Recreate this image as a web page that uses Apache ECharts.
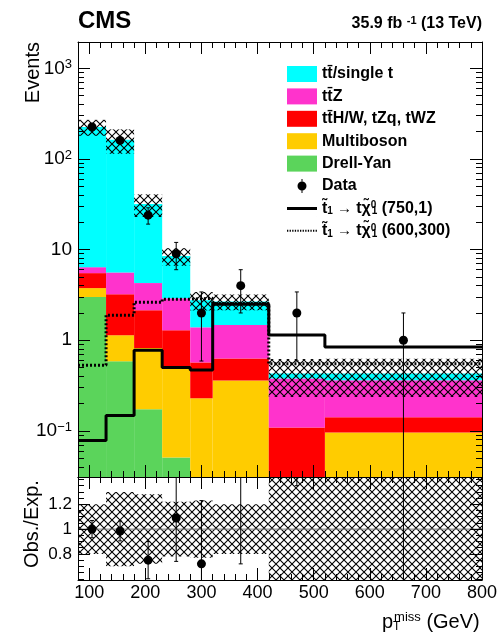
<!DOCTYPE html>
<html><head><meta charset="utf-8">
<script src="https://cdn.jsdelivr.net/npm/echarts@6/dist/echarts.min.js"></script>
<style>html,body{margin:0;padding:0;background:#fff}#c{width:498px;height:635px}</style>
</head><body><div id="c"></div>
<script>
// ---------------- data ----------------
const binLo = [80, 130, 180, 230, 280, 320, 420, 520];
const binHi = [130, 180, 230, 280, 320, 420, 520, 800];
// stacked backgrounds, bottom to top
const drellYan   = [3.0, 0.586, 0.173, 0.051, 0.005, 0.003, 0, 0];
const multiboson = [0.76, 0.55, 0.65, 0.44, 0.224, 0.357, 0.02, 0.096];
const ttOther    = [1.74, 2.08, 1.32, 0.80, 0.34, 0.27, 0.089, 0.045];
const ttZ        = [0.9, 2.38, 2.13, 1.62, 0.82, 0.84, 0.27, 0.22];
const ttSingle   = [218.6, 157.4, 27.5, 5.59, 1.38, 1.2, 0.05, 0.07];
const relUnc     = [0.2, 0.3, 0.28, 0.22, 0.23, 0.2, 0.45, 0.45];
const dataObs    = [225, 160, 24, 9, 2, 4, 2, 1];
const dataErr    = [15, 12.6, 4.9, 3, 1.41, 2, 1.41, 1];
const ratioObs   = [1.0, 0.985, 0.75, 1.09, 0.72, 1.5, 4.65, 2.3];
const ratioErr   = [0.07, 0.08, 0.15, 0.35, 0.51, 0.78, 3.3, 2.3];
const sig750     = [0.0785, 0.148, 0.776, 0.50, 0.47, 2.5, 1.14, 0.84];
const sig600     = [0.53, 1.89, 2.63, 2.84, 2.9, 2.55, 0.55, 0.55];
const xTickLabels = [100, 200, 300, 400, 500, 600, 700, 800];
const yTickLabels = [0.1, 1, 10, 100, 1000];
const rTickLabels = [0.8, 1, 1.2];

// ---------------- helpers ----------------
const FONT = '"Liberation Sans", Arial, Helvetica, sans-serif';
const X_MIN = 80, X_MAX = 800, Y_MIN = 0.031, Y_MAX = 1950, R_MIN = 0.59, R_MAX = 1.42;
const FLOOR = 1e-4;
const xMinor = []; for (let v = 100; v < 800; v += 20) if (v % 100) xMinor.push(v);
const yMinor = []; for (let e = -2; e <= 3; e++) for (let m = 2; m <= 9; m++) { const v = +(m * Math.pow(10, e)).toPrecision(3); if (v > Y_MIN && v < Y_MAX) yMinor.push(v); }
const rMinor = []; for (let k = 12; k <= 28; k++) { const v = +(k * 0.05).toFixed(2); if (v > R_MIN && v < R_MAX) rMinor.push(v); }

const layers = [
  {name: 'Drell-Yan', vals: drellYan, color: '#5bd45b'},
  {name: 'Multiboson', vals: multiboson, color: '#ffcc00'},
  {name: 'tt\u0304H/W, tZq, tWZ', vals: ttOther, color: '#ff0000'},
  {name: 'tt\u0304Z', vals: ttZ, color: '#ff33cc'},
  {name: 'tt\u0304/single t', vals: ttSingle, color: '#00ffff'}
];
const cum = binLo.map(() => 0);
const total = binLo.map((_, i) => layers.reduce((s, l) => s + l.vals[i], 0));

function makeHatch() {
  const s = 8, c = document.createElement('canvas');
  c.width = s; c.height = s;
  const g = c.getContext('2d');
  g.strokeStyle = '#000'; g.lineWidth = 1.1;
  g.beginPath(); g.moveTo(-1, -1); g.lineTo(s + 1, s + 1); g.moveTo(-1, s + 1); g.lineTo(s + 1, -1); g.stroke();
  return c;
}
const hatch = makeHatch();

function rectRender(fill) {
  return function (params, api) {
    const x0 = api.value(0), x1 = api.value(1), y0 = api.value(2), y1 = api.value(3);
    if (!(y1 > y0)) return;
    const a = api.coord([x0, y1]), b = api.coord([x1, y0]);
    return {type: 'rect', shape: {x: a[0], y: a[1], width: b[0] - a[0], height: b[1] - a[1]}, style: {fill: fill}};
  };
}
function pointRender(isLog) {
  return function (params, api) {
    const x = api.value(0), v = api.value(1), e = api.value(2);
    const c = api.coord([x, v]);
    const lo = isLog ? Math.max(v - e, 1e-6) : v - e;
    const ph = api.coord([x, v + e]), pl = api.coord([x, lo]);
    const st = {stroke: '#000', lineWidth: 1};
    const ch = [
      {type: 'line', shape: {x1: c[0], y1: ph[1], x2: c[0], y2: pl[1]}, style: st},
      {type: 'line', shape: {x1: c[0] - 2, y1: ph[1], x2: c[0] + 2, y2: ph[1]}, style: st}
    ];
    if (v - e > 0) ch.push({type: 'line', shape: {x1: c[0] - 2, y1: pl[1], x2: c[0] + 2, y2: pl[1]}, style: st});
    ch.push({type: 'circle', shape: {cx: c[0], cy: c[1], r: 4.5}, style: {fill: '#000'}});
    return {type: 'group', children: ch};
  };
}
function stepPoints(arr) {
  const p = binLo.map((lo, i) => [lo, arr[i]]);
  p.push([binHi[binHi.length - 1], arr[arr.length - 1]]);
  return p;
}

const series = [];
layers.forEach((l) => {
  const d = binLo.map((lo, i) => {
    const bottom = Math.max(cum[i], FLOOR);
    const top = cum[i] + l.vals[i];
    cum[i] = top;
    return [lo, binHi[i], bottom, top];
  });
  series.push({type: 'custom', name: l.name, xAxisIndex: 0, yAxisIndex: 0, clip: true, z: 2,
    itemStyle: {color: l.color}, encode: {x: [0, 1], y: [2, 3]}, data: d, renderItem: rectRender(l.color), animation: false});
});
series.push({type: 'custom', name: 'unc', xAxisIndex: 0, yAxisIndex: 0, clip: true, z: 3,
  encode: {x: [0, 1], y: [2, 3]}, animation: false,
  data: binLo.map((lo, i) => [lo, binHi[i], total[i] * (1 - relUnc[i]), total[i] * (1 + relUnc[i])]),
  renderItem: rectRender({image: hatch, repeat: 'repeat'})});
series.push({type: 'line', name: 'sig750', xAxisIndex: 0, yAxisIndex: 0, step: 'end', symbol: 'none', z: 4,
  data: stepPoints(sig750), lineStyle: {color: '#000', width: 3}, itemStyle: {color: '#000'}, animation: false});
series.push({type: 'line', name: 'sig600', xAxisIndex: 0, yAxisIndex: 0, step: 'end', symbol: 'none', z: 4,
  data: stepPoints(sig600), lineStyle: {color: '#000', width: 3, type: [2, 2]}, itemStyle: {color: '#000'}, animation: false});
series.push({type: 'custom', name: 'Data', xAxisIndex: 0, yAxisIndex: 0, clip: true, z: 5, itemStyle: {color: '#000'},
  encode: {x: 0, y: 1}, animation: false,
  data: binLo.map((lo, i) => [(lo + binHi[i]) / 2, dataObs[i], dataErr[i]]), renderItem: pointRender(true)});
// ratio panel
series.push({type: 'custom', name: 'runc', xAxisIndex: 4, yAxisIndex: 4, clip: true, z: 3,
  encode: {x: [0, 1], y: [2, 3]}, animation: false,
  data: binLo.map((lo, i) => [lo, binHi[i], 1 - relUnc[i], 1 + relUnc[i]]),
  renderItem: rectRender({image: hatch, repeat: 'repeat'})});
series.push({type: 'line', name: 'unity', xAxisIndex: 4, yAxisIndex: 4, symbol: 'none', z: 4, animation: false,
  data: [[X_MIN, 1], [X_MAX, 1]], lineStyle: {color: '#777', width: 1}});
series.push({type: 'custom', name: 'ratio', xAxisIndex: 4, yAxisIndex: 4, clip: true, z: 5, itemStyle: {color: '#000'},
  encode: {x: 0, y: 1}, animation: false,
  data: binLo.map((lo, i) => [(lo + binHi[i]) / 2, ratioObs[i], ratioErr[i]]), renderItem: pointRender(false)});

// ---------------- axes ----------------
const tickLine = {color: '#000', width: 1};
function xAx(grid, pos, ticks, len, line, label) {
  return {type: 'value', gridIndex: grid, position: pos, min: X_MIN, max: X_MAX, z: 10,
    axisLine: {show: line, lineStyle: tickLine},
    axisTick: {show: true, inside: true, length: len, customValues: ticks, lineStyle: tickLine},
    axisLabel: label ? Object.assign({show: true, customValues: xTickLabels, margin: 4, fontSize: 18, fontFamily: FONT, color: '#000'}, label) : {show: false},
    splitLine: {show: false}};
}
function yAx(grid, pos, type, min, max, ticks, len, line, label) {
  const a = {type: type, gridIndex: grid, position: pos, min: min, max: max, z: 10,
    axisLine: {show: line, lineStyle: tickLine},
    axisTick: {show: true, inside: true, length: len, customValues: ticks, lineStyle: tickLine},
    axisLabel: label ? label : {show: false},
    splitLine: {show: false}};
  if (type === 'log') a.logBase = 10;
  return a;
}
const yLabel = {show: true, customValues: yTickLabels, margin: 6, color: '#000', fontFamily: FONT,
  formatter: function (v) {
    const e = Math.round(Math.log10(v));
    if (e === 0) return '{b|1}';
    if (e === 1) return '{b|10}';
    return '{b|10}{s|' + (e < 0 ? '\u2212' + (-e) : e) + '}';
  },
  rich: {b: {fontSize: 19, fontFamily: FONT, color: '#000', lineHeight: 20},
         s: {fontSize: 13, fontFamily: FONT, color: '#000', lineHeight: 12, verticalAlign: 'top'}}};
const rLabel = {show: true, customValues: rTickLabels, margin: 6, color: '#000', fontFamily: FONT, fontSize: 17,
  formatter: v => String(+(+v).toFixed(1))};

const gMain = {left: 78, top: 42, width: 404, height: 435, outerBoundsMode: 'none'};
const gRat = {left: 78, top: 477, width: 404, height: 103, outerBoundsMode: 'none'};

const N = {tt: 'tt\u0304/single t', ttz: 'tt\u0304Z', ttx: 'tt\u0304H/W, tZq, tWZ'};
const anchor = 'M0,0L0.05,0L0,0.05Z M30,16L29.95,16L30,15.95Z ';
let dotted = anchor; for (let x = 0; x < 30; x += 2.6) dotted += 'M' + x + ',7L' + (x + 1.3) + ',7L' + (x + 1.3) + ',9L' + x + ',9Z ';
function sigLabel(m) {
  return '{n|t\u0303}{sb|1}{ar| \u2192 }{n|t\u03c7\u0303}{sp|0}{sb|1}{n| (' + m + ')}';
}

const option = {
  backgroundColor: '#fff',
  animation: false,
  grid: [gMain, Object.assign({}, gMain), gRat, Object.assign({}, gRat)],
  xAxis: [
    xAx(0, 'bottom', xTickLabels, 12, true, null),
    xAx(0, 'top', xTickLabels, 12, true, null),
    xAx(1, 'bottom', xMinor, 6, false, null),
    xAx(1, 'top', xMinor, 6, false, null),
    xAx(2, 'bottom', xTickLabels, 12, true, {}),
    xAx(2, 'top', xTickLabels, 12, true, null),
    xAx(3, 'bottom', xMinor, 6, false, null),
    xAx(3, 'top', xMinor, 6, false, null)
  ],
  yAxis: [
    yAx(0, 'left', 'log', Y_MIN, Y_MAX, yTickLabels, 12, true, yLabel),
    yAx(0, 'right', 'log', Y_MIN, Y_MAX, yTickLabels, 12, true, null),
    yAx(1, 'left', 'log', Y_MIN, Y_MAX, yMinor, 6, false, null),
    yAx(1, 'right', 'log', Y_MIN, Y_MAX, yMinor, 6, false, null),
    yAx(2, 'left', 'value', R_MIN, R_MAX, rTickLabels, 12, true, rLabel),
    yAx(2, 'right', 'value', R_MIN, R_MAX, rTickLabels, 12, true, null),
    yAx(3, 'left', 'value', R_MIN, R_MAX, rMinor, 6, false, null),
    yAx(3, 'right', 'value', R_MIN, R_MAX, rMinor, 6, false, null)
  ],
  legend: {
    orient: 'vertical', left: 287, top: 66, itemWidth: 30, itemHeight: 16, itemGap: 6.4,
    selectedMode: false, padding: 0,
    data: [
      {name: N.tt, icon: 'rect'}, {name: N.ttz, icon: 'rect'}, {name: N.ttx, icon: 'rect'},
      {name: 'Multiboson', icon: 'rect'}, {name: 'Drell-Yan', icon: 'rect'},
      {name: 'Data', icon: 'path://' + anchor + 'M10.5,8A4.5,4.5 0 1 1 19.5,8A4.5,4.5 0 1 1 10.5,8Z M14.5,1L15.5,1L15.5,15L14.5,15Z'},
      {name: 'sig750', icon: 'path://' + anchor + 'M0,6.5L30,6.5L30,9.5L0,9.5Z'},
      {name: 'sig600', icon: 'path://' + dotted}
    ],
    formatter: function (name) {
      if (name === 'sig750') return sigLabel('750,1');
      if (name === 'sig600') return sigLabel('600,300');
      return '{n|' + name + '}';
    },
    textStyle: {fontFamily: FONT, fontSize: 16, fontWeight: 'bold', color: '#000', lineHeight: 16,
      rich: {
        n: {fontFamily: FONT, fontSize: 16, fontWeight: 'bold', color: '#000', lineHeight: 16},
        sb: {fontFamily: FONT, fontSize: 10, fontWeight: 'bold', color: '#000', lineHeight: 8, verticalAlign: 'bottom'},
        sp: {fontFamily: FONT, fontSize: 10, fontWeight: 'bold', color: '#000', lineHeight: 8, verticalAlign: 'top', width: 1, align: 'left'},
        ar: {fontFamily: FONT, fontSize: 15, fontWeight: 'normal', color: '#000', lineHeight: 16}
      }}
  },
  graphic: [
    {type: 'text', x: 78, y: 21, style: {text: 'CMS', fontFamily: FONT, fontSize: 24, fontWeight: 'bold', fill: '#000', align: 'left', verticalAlign: 'middle'}},
    {type: 'text', x: 482, y: 24, style: {text: '{a|35.9 fb }{s|-1}{a| (13 TeV)}', align: 'right', verticalAlign: 'middle',
      rich: {a: {fontFamily: FONT, fontSize: 16, fontWeight: 'bold', fill: '#000', lineHeight: 18},
             s: {fontFamily: FONT, fontSize: 11, fontWeight: 'bold', fill: '#000', lineHeight: 10, verticalAlign: 'top'}}}},
    {type: 'text', x: 33, y: 42, rotation: Math.PI / 2, style: {text: 'Events', fontFamily: FONT, fontSize: 20, fill: '#000', align: 'right', verticalAlign: 'middle'}},
    {type: 'text', x: 32, y: 524, rotation: Math.PI / 2, style: {text: 'Obs./Exp.', fontFamily: FONT, fontSize: 20, fill: '#000', align: 'center', verticalAlign: 'middle'}},
    {type: 'text', x: 382, y: 622, style: {text: '{p|p}{sb|T}{sp|miss}{p| (GeV)}', align: 'left', verticalAlign: 'middle',
      rich: {p: {fontFamily: FONT, fontSize: 20, fill: '#000', lineHeight: 22, align: 'left'},
             sb: {fontFamily: FONT, fontSize: 12, fill: '#000', lineHeight: 10, verticalAlign: 'bottom', width: 1, align: 'left'},
             sp: {fontFamily: FONT, fontSize: 13, fill: '#000', lineHeight: 12, verticalAlign: 'top', align: 'left'}}}}
  ],
  series: series
};
const chart = echarts.init(document.getElementById('c'), null, {renderer: 'canvas'});
chart.setOption(option);
</script>
</body></html>
